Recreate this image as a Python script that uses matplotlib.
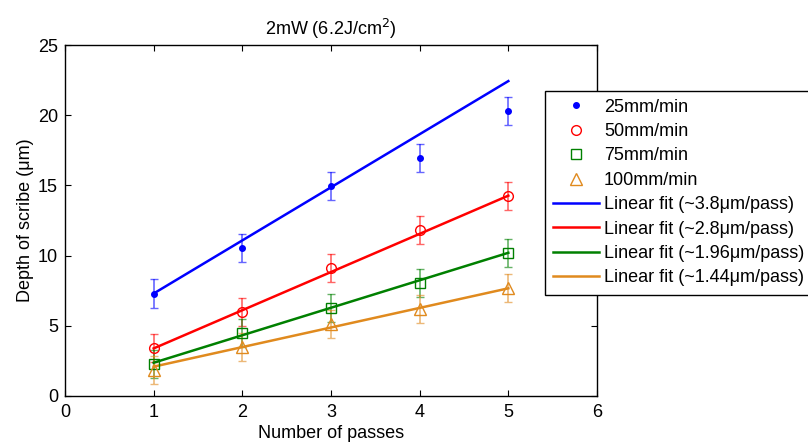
import matplotlib
matplotlib.use("Agg")
import matplotlib.pyplot as plt
import numpy as np

plt.rcParams['font.family'] = ['Liberation Sans', 'DejaVu Sans']

passes = [1, 2, 3, 4, 5]
d25 = [7.3, 10.56, 14.98, 16.93, 20.3]
d50 = [3.39, 5.96, 9.14, 11.82, 14.27]
d75 = [2.26, 4.46, 6.25, 8.03, 10.2]
d100 = [1.85, 3.51, 5.1, 6.2, 7.71]
err = [1.0, 1.0, 1.0, 1.0, 1.0]
# fitted line values at pass 1 and pass 5 (as drawn)
fit_x = [1, 5]
fit25 = [7.3, 22.43]
fit50 = [3.39, 14.27]
fit75 = [2.37, 10.2]
fit100 = [2.09, 7.67]

labels = ['25mm/min', '50mm/min', '75mm/min', '100mm/min']
fit_labels = ['Linear fit (~3.8\u03bcm/pass)', 'Linear fit (~2.8\u03bcm/pass)',
              'Linear fit (~1.96\u03bcm/pass)', 'Linear fit (~1.44\u03bcm/pass)']
colors = ['#0000ff', '#ff0000', '#008000', '#e08a1e']

FS = 13
fig = plt.figure(figsize=(8.08, 4.42), dpi=100)
ax = fig.add_axes([65/808, 1-396/442, (597-65)/808, (396-45)/442])

series = [d25, d50, d75, d100]
fits = [fit25, fit50, fit75, fit100]
markers = [dict(marker='o', ms=4, mfc=colors[0], mec=colors[0]),
           dict(marker='o', ms=7, mfc='none', mec=colors[1], mew=1),
           dict(marker='s', ms=7, mfc='none', mec=colors[2], mew=1),
           dict(marker='^', ms=8, mfc='none', mec=colors[3], mew=1)]

marker_handles = []
line_handles = []
for ys, fy, c, mk, lab, flab in zip(series, fits, colors, markers, labels, fit_labels):
    ax.errorbar(passes, ys, yerr=err, fmt='none', ecolor=c, alpha=0.6,
                elinewidth=1.2, capsize=3, capthick=1.0, zorder=2)
    lh, = ax.plot(fit_x, fy, '-', color=c, lw=1.8, label=flab, zorder=3)
    mh, = ax.plot(passes, ys, linestyle='none', label=lab, zorder=4, **mk)
    marker_handles.append(mh)
    line_handles.append(lh)

ax.set_xlim(0, 6)
ax.set_ylim(0, 25)
ax.set_xticks(range(0, 7))
ax.set_yticks(range(0, 26, 5))
ax.tick_params(direction='in', top=True, right=True, length=4, labelsize=FS, pad=5)
ax.tick_params(axis='x', pad=6)
for s in ax.spines.values():
    s.set_linewidth(1.0)
ax.set_xlabel('Number of passes', fontsize=FS, labelpad=3)
ax.set_ylabel('Depth of scribe (\u03bcm)', fontsize=FS, labelpad=3)
ax.set_title('2mW (6.2J/cm$^2$)', fontsize=FS, pad=7)

leg = fig.legend(marker_handles + line_handles,
                 labels + fit_labels,
                 loc='upper left', bbox_to_anchor=(545/808, 1-90.5/442),
                 fontsize=FS, frameon=True, fancybox=False, edgecolor='black',
                 framealpha=1, handlelength=2.55, handletextpad=0.26,
                 labelspacing=0.41, borderpad=0.45, borderaxespad=0)
leg.get_frame().set_linewidth(1.0)

fig.savefig('out.png', dpi=100)
